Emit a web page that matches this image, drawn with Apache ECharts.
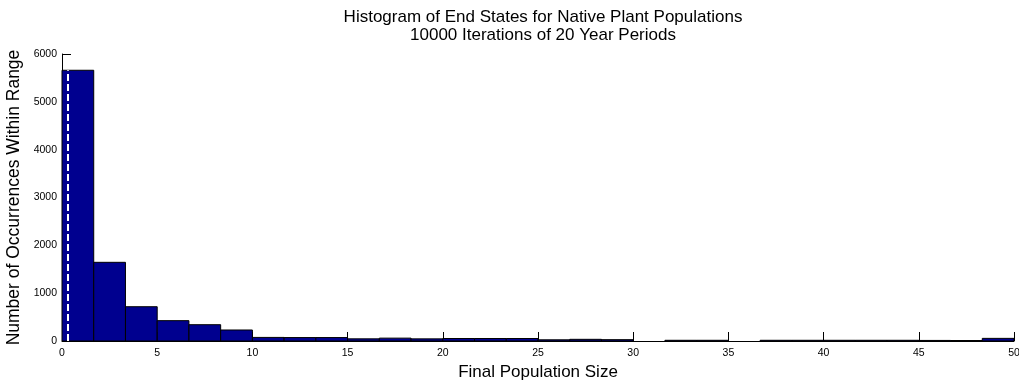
<!DOCTYPE html>
<html>
<head>
<meta charset="utf-8">
<script src="https://cdn.jsdelivr.net/npm/echarts@6/dist/echarts.min.js"></script>
<style>html,body{margin:0;padding:0;background:#fff;}#c{width:1019px;height:381px;}</style>
</head>
<body>
<div id="c"></div>
<script>
// Histogram: 30 bins over 0..50
const xMin = 0, xMax = 50, binCount = 30;
const counts = [5660, 1645, 717, 425, 341, 230, 75, 72, 72, 45,
                60, 45, 52, 52, 52, 25, 35, 28, 0, 15,
                15, 0, 15, 15, 15, 15, 15, 12, 10, 55];
const xTicks = [0, 5, 10, 15, 20, 25, 30, 35, 40, 45, 50];
const yTicks = [0, 1000, 2000, 3000, 4000, 5000, 6000];
const titleText = 'Histogram of End States for Native Plant Populations\n10000 Iterations of 20 Year Periods';
const xName = 'Final Population Size';
const yName = 'Number of Occurrences Within Range';
const dashX = 0.3;

const binW = (xMax - xMin) / binCount;
const data = counts.map((c, i) => [xMin + i * binW, xMin + (i + 1) * binW, c]);

const font = 'Liberation Sans, Arial, Helvetica, sans-serif';
const chart = echarts.init(document.getElementById('c'), null, {renderer: 'canvas'});
chart.setOption({
  animation: false,
  backgroundColor: '#fff',
  title: {
    text: titleText, left: 538, textAlign: 'center', top: 3,
    textStyle: {fontFamily: font, fontSize: 17, fontWeight: 'normal', color: '#000', lineHeight: 18}
  },
  grid: {left: 62, right: 5, top: 54, bottom: 40, containLabel: false, outerBoundsMode: 'none'},
  xAxis: {
    type: 'value', min: xMin, max: xMax, interval: 5,
    name: xName, nameLocation: 'middle', nameGap: 22,
    nameTextStyle: {fontFamily: font, fontSize: 17, color: '#000'},
    axisLine: {show: true, lineStyle: {color: '#000', width: 1}},
    axisTick: {show: true, inside: true, length: 9, lineStyle: {color: '#000'}},
    axisLabel: {fontFamily: font, fontSize: 10.5, color: '#000', margin: 7,
                formatter: v => xTicks.includes(v) ? String(v) : ''},
    splitLine: {show: false}
  },
  yAxis: {
    type: 'value', min: 0, max: 6000, interval: 1000,
    name: yName, nameLocation: 'middle', nameGap: 32,
    nameTextStyle: {fontFamily: font, fontSize: 17.5, color: '#000'},
    axisLine: {show: true, lineStyle: {color: '#000', width: 1}},
    axisTick: {show: true, inside: true, length: 9, lineStyle: {color: '#000'}},
    axisLabel: {fontFamily: font, fontSize: 10.5, color: '#000', margin: 5,
                formatter: v => yTicks.includes(v) ? String(v) : ''},
    splitLine: {show: false}
  },
  series: [{
    type: 'custom',
    data: data,
    encode: {x: [0, 1], y: 2},
    renderItem: function (params, api) {
      const x0 = api.value(0), x1 = api.value(1), v = api.value(2);
      if (!v) return null;
      const p0 = api.coord([x0, v]);
      const p1 = api.coord([x1, 0]);
      return {
        type: 'rect',
        shape: {x: p0[0], y: p0[1], width: p1[0] - p0[0], height: p1[1] - p0[1]},
        style: {fill: '#00008f', stroke: '#000', lineWidth: 1}
      };
    },
    markLine: {
      silent: true, symbol: 'none', label: {show: false},
      lineStyle: {color: '#fff', width: 2, type: [7, 3]},
      data: [[{coord: [dashX, 0]}, {coord: [dashX, counts[0]]}]]
    }
  }]
});
</script>
</body>
</html>
